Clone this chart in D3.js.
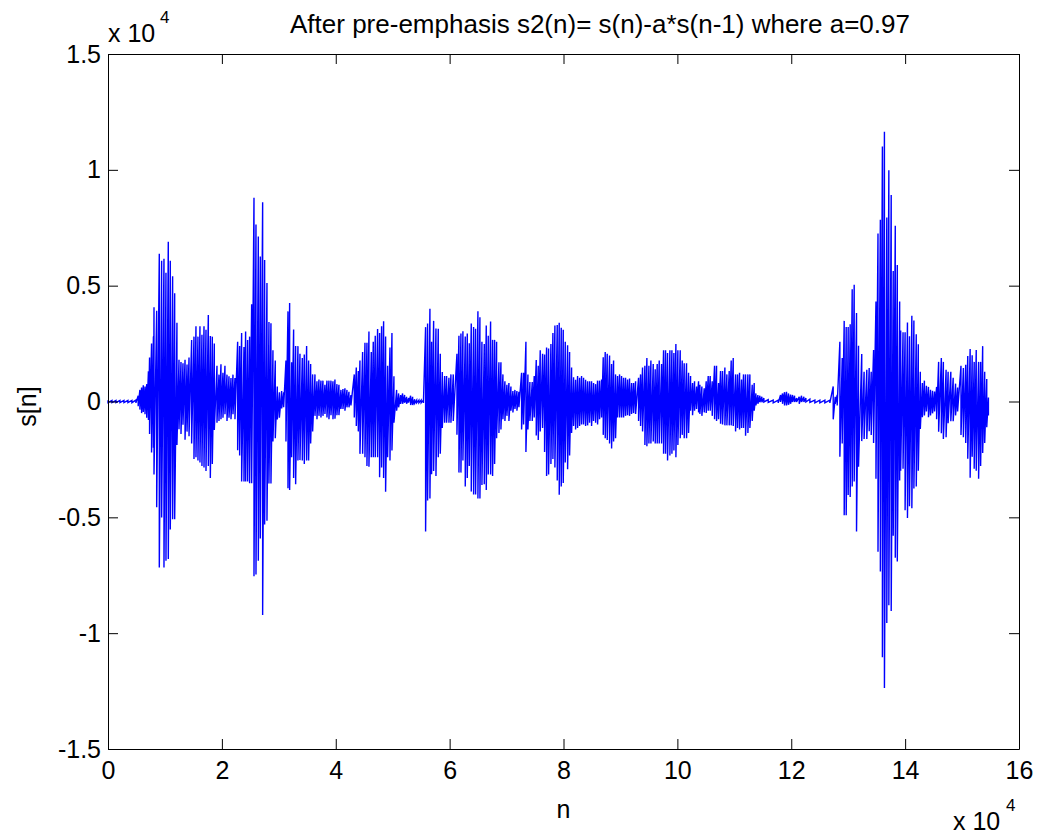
<!DOCTYPE html>
<html>
<head>
<meta charset="utf-8">
<script src="https://cdn.jsdelivr.net/npm/d3@7"></script>
<style>
  body { margin: 0; background: #fff; }
  svg { display: block; font-family: "Liberation Sans", Arial, sans-serif; }
</style>
</head>
<body>
<script>
// pitch pulses: sample index, top and bottom of each stroke
const pulseN = [
  0, 700, 1400, 2100, 2800, 3500, 4200, 4900,
  5300, 5600, 5900, 6200, 6500, 6800, 7100, 7300, 7650, 7980,
  8080, 8550, 9010, 9420, 9830, 10180, 10590, 10940, 11350, 11710, 12110,
  12470, 12820, 13170, 13530, 13880, 14230,
  14690, 15100, 15450, 15800, 16150, 16500, 16860, 17210, 17620, 17970, 18320, 18670,
  19140, 19490, 19840, 20190, 20540, 20900, 21250, 21600, 21950, 22300,
  22770, 23120, 23470, 23880, 24170, 24520, 24870,
  25230, 25640, 25990, 26400, 26750, 27160, 27510, 27920, 28270, 28620, 28970, 29380, 29735,
  30100, 30500, 30850,
  31255, 31610, 31900, 32250, 32600, 32955, 33360, 33715, 34125, 34475, 34885, 35235, 35590, 35940,
  36350, 36700, 37050, 37400, 37750, 38100, 38455, 38805, 39160, 39510, 39860, 40210, 40560,
  40910, 41265, 41615, 41970, 42320, 42670,
  43255, 43610, 43960, 44250, 44720, 45130, 45480, 45830, 46240, 46590, 46940, 47350, 47700,
  48055, 48405, 48755, 49110, 49520, 49870, 50220,
  50690, 51040, 51390, 51740, 52090, 52440, 52800, 53150, 53500, 53850, 54200, 54600, 55000, 55400,
  55780, 56130, 56540, 56835, 57190, 57600, 58005, 58360, 58710, 59120, 59470, 59880, 60230, 60640,
  61285, 61635, 61985, 62335, 62745, 63100, 63450, 63800, 64210, 64560, 64970, 65320, 65675,
  66085, 66435, 66785, 67195, 67545, 67900, 68250, 68660, 69010,
  69360, 69710, 70060, 70415, 70765, 71115, 71470, 71820, 72170,
  72640, 72990, 73400, 73750, 74100, 74510, 74860, 75215, 75565, 75915, 76325, 76675,
  77030, 77380, 77790, 78140, 78490, 78900, 79250, 79605, 79955, 80310, 80720, 81070, 81420,
  81770, 82120, 82475, 82825, 83175, 83525, 83880, 84230, 84580, 84930, 85280, 85635, 85985, 86335, 86690,
  86980, 87330, 87680, 88090, 88445, 88795,
  89145, 89495, 89850, 90200, 90550, 90900, 91250, 91600, 91955, 92305, 92660,
  93185, 93535, 93885, 94295, 94645, 95000, 95350, 95760, 96110, 96460, 96815, 97225, 97575,
  97925, 98275, 98685, 99040, 99390, 99740, 100090, 100500, 100850, 101200, 101610, 101965,
  102315, 102665, 103015, 103370, 103720,
  103955, 104305, 104715, 105065, 105420, 105770, 106120, 106530, 106880, 107230, 107585, 107935,
  108345, 108695, 109105, 109455, 109810, 110220, 110570, 110920, 111270, 111620, 111975, 112385,
  112735, 113145, 113495,
  113790, 114140, 114490, 114840, 115190, 115955, 116830, 117710,
  118120, 118470, 118820, 119170, 119520, 119875, 120225, 120580, 120930,
  121400, 121810, 122215, 122570, 123270, 124150, 125025, 125905, 126780,
  127370, 127720, 128070,
  128540, 128950, 129300, 129650, 130000, 130350, 130705, 131055, 131465, 131815,
  132380, 132795, 133270, 133690, 134045, 134460,
  134880, 135235, 135650, 136010, 136365, 136780, 137140, 137555, 137910, 138270, 138625, 139040,
  139220, 139635, 139995, 140410, 140765, 141180, 141540, 141955, 142315, 142670,
  143030, 143385, 143740, 144100, 144455, 144815, 145170, 145530,
  145885, 146360, 146715, 147195, 147550, 148025, 148440, 148860, 149215,
  149810, 150230, 150645, 151000, 151420, 151775, 152130, 152490, 152905, 153260, 153620,
  153975, 154335, 154630
];

const pulseHi = [
  50, 50, 50, 50, 50, 50, 50, 60,
  250, 500, 600, 700, 650, 750, 1300, 1900, 2500, 2800,
  4070, 3920, 6380, 6080, 6160, 5560, 6900, 6080, 5410, 4670, 3400,
  1800, 1700, 1650, 1800, 1600, 1900,
  2650, 2800, 3250, 2800, 3250, 2880, 3250, 3100, 3730, 2830, 2800, 2500,
  1540, 1160, 1610, 1240, 1540, 1160, 1090, 1010, 1160, 1010,
  2580, 2400, 2960, 2350, 3020, 2650, 2800,
  4200, 8800, 7640, 7120, 6260, 8600, 6110, 5120, 3430, 3380, 2210, 1770, 650,
  400, 450, 400,
  1770, 3890, 4250, 1690, 3110, 2400, 2390, 2060, 1880, 2030, 2400, 1770, 1620, 1170,
  1170, 870, 950, 900, 900, 720, 900, 900, 900, 870, 950, 750, 720,
  500, 540, 570, 500, 420, 280,
  1170, 1470, 1320, 1770, 2140, 2540, 2540, 3020, 2140, 2580, 2840, 3130, 2960,
  3250, 3460, 2810, 1540, 2330, 2960, 1090,
  500, 350, 280, 350, 280, 200, 150, 250, 200, 100, 60, 60, 60, 60,
  3210, 3370, 4000, 2580, 3480, 3150, 3140, 2060, 1270, 1100, 1100, 1020, 1170, 1170,
  2060, 2840, 2930, 3030, 2810, 2930, 2510, 3370, 3220, 3140, 3900, 3640, 2580,
  2480, 3280, 2840, 3450, 2660, 2660, 2580, 1690, 1690,
  1170, 870, 720, 800, 650, 450, 500, 450, 420,
  1240, 1240, 2580, 1170, 840, 840, 1100, 1790, 1540, 2210, 2060, 2030,
  2330, 2290, 2480, 2960, 3280, 3300, 3400, 3180, 3100, 2580, 2430, 2140, 1470,
  1050, 940, 1100, 1020, 1100, 1020, 940, 870, 870, 870, 800, 750, 900, 900, 950,
  1910, 2140, 2060, 1990, 1620, 1770,
  1170, 1100, 1170, 1100, 1020, 1020, 950, 990, 800, 800, 870,
  1020, 1170, 1470, 1540, 1880, 1540, 1770, 1620, 1390, 1620, 1770, 1620, 2210,
  2210, 2090, 2210, 2210, 2090, 2480, 2210, 2210, 1770, 1650, 1650, 1240,
  1100, 800, 870, 650, 870,
  720, 650, 570, 870, 1100, 1100, 870, 1540, 1540, 800, 1320, 1320,
  1470, 1170, 1320, 1770, 1880, 1170, 1170, 1240, 950, 1170, 1170, 1170,
  1170, 720, 800,
  350, 280, 250, 200, 150, 80, 60, 60,
  280, 350, 400, 420, 350, 300, 280, 250, 150,
  200, 250, 200, 150, 100, 60, 60, 60, 60,
  650, 200, 280,
  2580, 1880, 3480, 3220, 3220, 3330, 4850, 5040, 3820, 2410,
  2050, 1280, 1370, 1450, 1280, 2220,
  4320, 7250, 7850, 11010, 11640, 7940, 9980, 8910, 5630, 7590, 5890, 4320,
  3070, 2990, 2990, 3410, 2820, 3700, 3500, 2900, 2470, 1280,
  800, 900, 680, 630, 510, 460, 430, 630,
  1710, 1880, 1710, 1370, 1280, 1280, 1020, 770, 600,
  1540, 1450, 1590, 1960, 2270, 2000, 1710, 2220, 1710, 1710, 2390,
  1280, 970, 170
];

const pulseLo = [
  -50, -50, -50, -50, -50, -50, -50, -60,
  -200, -350, -500, -450, -550, -700, -800, -1400, -2200, -2000,
  -3150, -4560, -7170, -5010, -7170, -6870, -6800, -5530, -5080, -5080, -1880,
  -1200, -1400, -1000, -1650, -1300, -1500,
  -1810, -2480, -2410, -2550, -2630, -2780, -2850, -3000, -2780, -3300, -2700, -1230,
  -920, -840, -770, -700, -550, -840, -700, -770, -550, -770,
  -2100, -2330, -3450, -3450, -3450, -3450, -3530,
  -3530, -7540, -7470, -6870, -5910, -9220, -5310, -5150, -3540, -3540, -1730, -1590, -770,
  -700, -300, -250,
  -1730, -3740, -3820, -2410, -3300, -3570, -2550, -2530, -2550, -2700, -2550, -2550, -1810, -1290,
  -620, -770, -620, -690, -620, -540, -690, -770, -590, -770, -740, -590, -590,
  -320, -320, -400, -250, -250, -170,
  -690, -1060, -1290, -2260, -2260, -2410, -2780, -2820, -2410, -2410, -2410, -2410, -3270,
  -2850, -3300, -3900, -2410, -2550, -2110, -920,
  -400, -250, -100, -100, -50, -100, -50, -150, -150, -80, -60, -60, -60, -60,
  -5610, -4270, -4190, -3140, -3000, -3220, -2410, -2260, -1140, -920, -920, -920, -920, -840,
  -1440, -3070, -3070, -2550, -3670, -3300, -2780, -3890, -4010, -4010, -4190, -4190, -3600,
  -3570, -3820, -3150, -3150, -3220, -2700, -1590, -1360, -1210,
  -770, -840, -620, -840, -400, -470, -320, -400, -250,
  -1210, -990, -2180, -1210, -840, -840, -690, -1470, -1660, -1290, -1140, -2180,
  -3220, -3150, -2700, -2480, -2850, -3410, -4030, -3670, -3520, -2630, -2920, -2330, -1360,
  -1060, -1210, -1140, -1060, -990, -990, -1060, -1030, -920, -1060, -840, -920, -990, -770, -690,
  -1440, -1590, -1660, -1810, -2030, -1730,
  -1590, -690, -690, -690, -690, -620, -590, -620, -540, -500, -540,
  -840, -1060, -1290, -1880, -1930, -1810, -1810, -1730, -1810, -1810, -1810, -1810, -2260,
  -2260, -2550, -2330, -2260, -2110, -2410, -1880, -1590, -1440, -1590, -1590, -1360,
  -400, -590, -400, -320, -470,
  -540, -620, -470, -500, -400, -400, -620, -770, -840, -770, -960, -990,
  -1030, -1030, -1030, -1030, -1060, -1290, -1140, -1210, -1140, -1140, -1480, -1360,
  -1140, -840, -400,
  -170, -100, -30, -30, -20, -40, -60, -60,
  -20, -100, -170, -170, -140, -100, -20, -20, -20,
  -100, -20, -20, -20, -40, -60, -60, -60, -60,
  -770, -100, -170,
  -2380, -1810, -4910, -4910, -4040, -4120, -3670, -3450, -5610, -2820,
  -1710, -1620, -1620, -1280, -1450, -1790,
  -3330, -6490, -7340, -11040, -12370, -9560, -8790, -9040, -5800, -6740, -6910, -3410,
  -2990, -2900, -4690, -5030, -4520, -4610, -3750, -3670, -2990, -1190,
  -680, -600, -430, -680, -600, -510, -430, -770,
  -1310, -1370, -1620, -1540, -940, -850, -850, -600, -430,
  -1450, -1540, -1790, -2470, -3290, -2390, -2900, -2990, -3330, -2780, -2220,
  -1790, -1110, -600
];

const xTicks = [0, 20000, 40000, 60000, 80000, 100000, 120000, 140000, 160000];
const yTicks = [-15000, -10000, -5000, 0, 5000, 10000, 15000];
const titleText = "After pre-emphasis s2(n)= s(n)-a*s(n-1) where a=0.97";

const width = 1040, height = 837;
const margin = {top: 54, right: 21, bottom: 88, left: 108};

const x = d3.scaleLinear()
    .domain([0, 160000])
    .range([margin.left, width - margin.right]);

const y = d3.scaleLinear()
    .domain([-15000, 15000])
    .range([height - margin.bottom, margin.top]);

const svg = d3.select("body").append("svg")
    .attr("width", width)
    .attr("height", height);

// each pulse: up to its top, down to its bottom, then on to the next one
const pts = [];
pulseN.forEach((n, i) => {
  pts.push([n, pulseHi[i]]);
  pts.push([n, pulseLo[i]]);
});

const line = d3.line()
    .x(d => x(d[0]))
    .y(d => y(d[1]));

svg.append("path")
    .datum(pts)
    .attr("fill", "none")
    .attr("stroke", "#0000ff")
    .attr("stroke-width", 1.4)
    .attr("d", line);

const fmt = v => String(v / 10000);
const tickLen = 10;

// matlab style: box with inward ticks on all four sides
const axBottom = svg.append("g")
    .attr("transform", `translate(0,${y(-15000)})`)
    .call(d3.axisBottom(x).tickValues(xTicks).tickFormat(fmt).tickSizeInner(-tickLen).tickSizeOuter(0).tickPadding(12));
const axTop = svg.append("g")
    .attr("transform", `translate(0,${y(15000)})`)
    .call(d3.axisTop(x).tickValues(xTicks).tickFormat("").tickSizeInner(-tickLen).tickSizeOuter(0));
const axLeft = svg.append("g")
    .attr("transform", `translate(${x(0)},0)`)
    .call(d3.axisLeft(y).tickValues(yTicks).tickFormat(fmt).tickSizeInner(-tickLen).tickSizeOuter(0).tickPadding(7));
const axRight = svg.append("g")
    .attr("transform", `translate(${x(160000)},0)`)
    .call(d3.axisRight(y).tickValues(yTicks).tickFormat("").tickSizeInner(-tickLen).tickSizeOuter(0));

[axBottom, axTop, axLeft, axRight].forEach(g => {
  g.select(".domain").attr("stroke", "#000").attr("stroke-width", 1);
  g.selectAll(".tick line").attr("stroke", "#000");
  g.selectAll("text")
      .attr("font-family", "Liberation Sans, Arial, sans-serif")
      .attr("font-size", 25)
      .attr("fill", "#000");
});

const txt = (xx, yy, s, size, anchor) => svg.append("text")
    .attr("x", xx).attr("y", yy)
    .attr("font-size", size)
    .attr("text-anchor", anchor || "start")
    .attr("fill", "#000")
    .text(s);

txt(600, 33, titleText, 26, "middle");
txt(x(80000), 818, "n", 25, "middle");

svg.append("text")
    .attr("transform", `translate(36,${(y(0) + 5)}) rotate(-90)`)
    .attr("text-anchor", "middle")
    .attr("font-size", 25)
    .text("s[n]");

// exponent marks for both axes
txt(108, 42, "x 10", 25);
txt(160, 23, "4", 17);
txt(953, 830, "x 10", 25);
txt(1006, 811, "4", 17);
</script>
</body>
</html>
